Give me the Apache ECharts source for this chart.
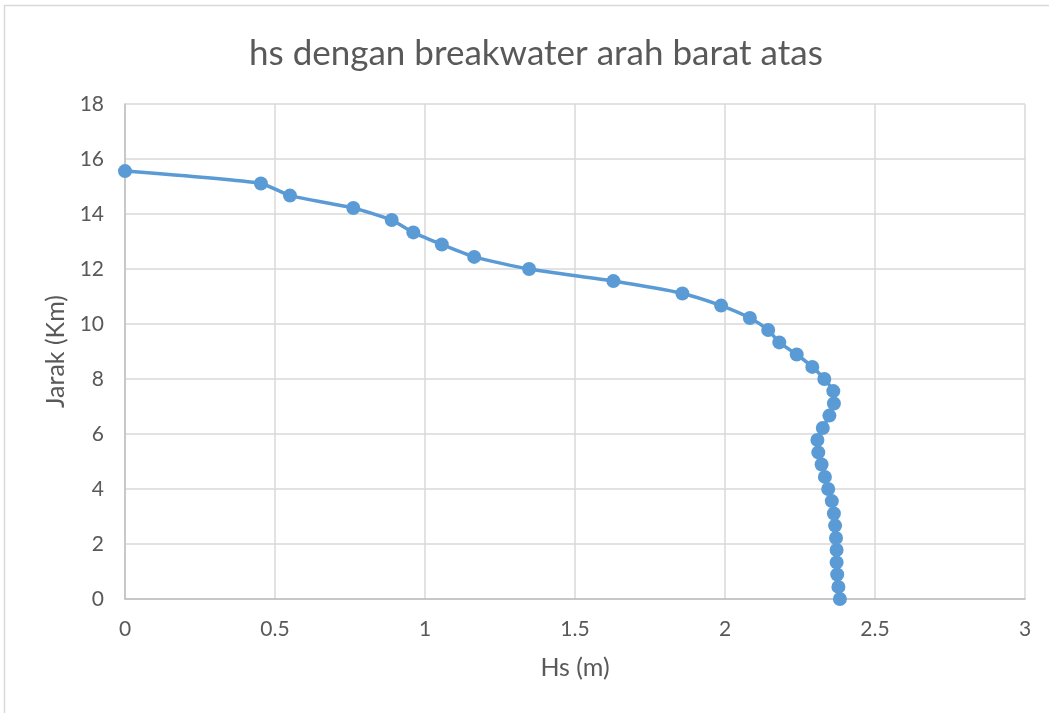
<!DOCTYPE html>
<html>
<head>
<meta charset="utf-8">
<script src="https://cdn.jsdelivr.net/npm/echarts@6/dist/echarts.min.js"></script>
<style>
  html, body { margin: 0; padding: 0; background: #fff; }
  #chart { width: 1049px; height: 713px; }
</style>
</head>
<body>
<div id="chart"></div>
<script>
// Significant wave height (m) against distance (km)
const jarakKm = [
  0.00, 0.44, 0.89, 1.33, 1.78, 2.22, 2.67, 3.11, 3.56, 4.00,
  4.44, 4.89, 5.33, 5.78, 6.22, 6.67, 7.11, 7.56, 8.00, 8.44,
  8.89, 9.33, 9.78, 10.22, 10.67, 11.11, 11.56, 12.00, 12.44, 12.89,
  13.33, 13.78, 14.22, 14.67, 15.11, 15.56
];
const hsM = [
  2.383, 2.378, 2.374, 2.372, 2.372, 2.370, 2.367, 2.363, 2.356, 2.344,
  2.333, 2.322, 2.311, 2.308, 2.326, 2.348, 2.363, 2.361, 2.331, 2.291,
  2.239, 2.181, 2.144, 2.083, 1.987, 1.858, 1.628, 1.347, 1.164, 1.056,
  0.961, 0.889, 0.761, 0.550, 0.453, 0.000
];
const titleText = 'hs dengan breakwater arah barat atas';
const xName = 'Hs (m)';
const yName = 'Jarak (Km)';

const font = 'Lato, "Open Sans", sans-serif';
const textColor = '#595959';
const gridColor = '#d9d9d9';

const points = hsM.map((h, i) => [h, jarakKm[i]]);

const chart = echarts.init(document.getElementById('chart'), null, { renderer: 'canvas' });
chart.setOption({
  animation: false,
  backgroundColor: '#fff',
  title: {
    text: titleText,
    left: 244,
    top: 31,
    textStyle: { fontFamily: font, fontSize: 35, fontWeight: 'normal', color: textColor }
  },
  grid: { left: 125, right: 24, top: 104, bottom: 114, containLabel: false },
  xAxis: {
    type: 'value',
    min: 0, max: 3, interval: 0.5,
    name: xName,
    nameLocation: 'middle',
    nameGap: 56,
    nameTextStyle: { fontFamily: font, fontSize: 25, color: textColor },
    axisLine: { show: true, lineStyle: { color: '#bfbfbf', width: 1.5 } },
    axisTick: { show: false },
    axisLabel: { fontFamily: font, fontSize: 21, color: textColor, margin: 20 },
    splitLine: { show: true, lineStyle: { color: gridColor, width: 1.5 } }
  },
  yAxis: {
    type: 'value',
    min: 0, max: 18, interval: 2,
    name: yName,
    nameLocation: 'middle',
    nameGap: 56,
    nameTextStyle: { fontFamily: font, fontSize: 25, color: textColor },
    axisLine: { show: true, lineStyle: { color: '#bfbfbf', width: 1.5 } },
    axisTick: { show: false },
    axisLabel: { fontFamily: font, fontSize: 21, color: textColor, margin: 21 },
    splitLine: { show: true, lineStyle: { color: gridColor, width: 1.5 } }
  },
  graphic: [{
    type: 'rect',
    shape: { x: 4.5, y: 5.5, width: 1100, height: 800 },
    style: { fill: 'none', stroke: '#d9d9d9', lineWidth: 1.5 },
    silent: true,
    z: -1
  }],
  series: [{
    type: 'line',
    data: points,
    smooth: 0.2,
    symbol: 'circle',
    symbolSize: 14,
    itemStyle: { color: '#5b9bd5' },
    lineStyle: { color: '#5b9bd5', width: 3.5 },
    clip: false
  }]
});
</script>
</body>
</html>
